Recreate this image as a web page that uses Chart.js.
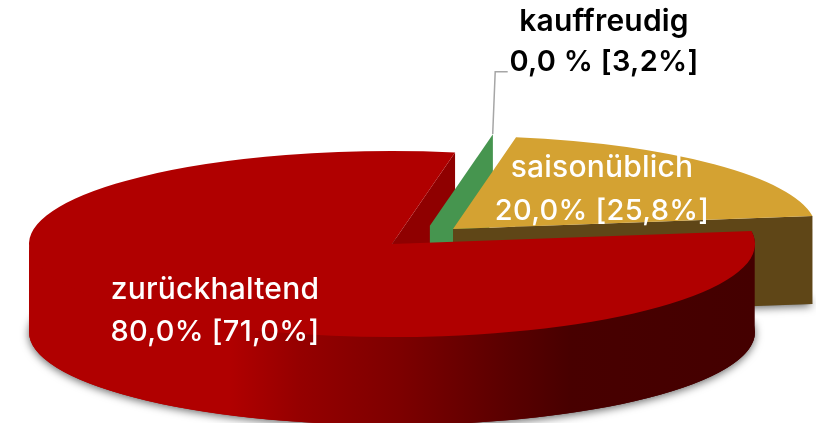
<!DOCTYPE html>
<html><head><meta charset="utf-8">
<style>html,body{margin:0;padding:0;background:#fff}canvas{display:block}</style>
<script src="https://cdn.jsdelivr.net/npm/chart.js@4"></script>
</head><body><canvas id="c" width="816" height="423"></canvas>
<script>
const categories = ['saisonüblich', 'zurückhaltend', 'kauffreudig'];
const currentShare = [20, 80, 0];
const previousShare = [25.8, 71.0, 3.2];
const valueLabels = ['20,0% [25,8%]', '80,0% [71,0%]', '0,0 % [3,2%]'];
const topColors = ['#d4a232', '#b00000', '#46954f'];
const wallColors = ['#5f4617', '#8f0000', '#46954f'];
const labelColors = ['#ffffff', '#ffffff', '#000000'];
const labelWeights = [500, 500, 600];
const labelCenters = [[602, 177, 220], [215, 299, 341], [604, 31, 71]];
const leaderLine = [[492.7, 134], [495.2, 71.7], [507.7, 71.7]];

const RX = 363, RY = 93, DEPTH = 88, CX = 422.5, CY = 236.5, EXPLODE = 42.4 / 363;

function apex(el) {
  const mid = (el.startAngle + el.endAngle) / 2;
  return [CX + Math.cos(mid) * EXPLODE * RX, CY + Math.sin(mid) * EXPLODE * RY];
}
function rim(a, t) { return [a[0] + Math.cos(t) * RX, a[1] + Math.sin(t) * RY]; }
function wall(ctx, a, t, color) {
  const p = rim(a, t);
  ctx.fillStyle = color;
  ctx.beginPath();
  ctx.moveTo(a[0], a[1]); ctx.lineTo(p[0], p[1]);
  ctx.lineTo(p[0], p[1] + DEPTH); ctx.lineTo(a[0], a[1] + DEPTH);
  ctx.closePath(); ctx.fill();
}
function topFace(ctx, el, a) {
  if (el.circumference <= 0) return;
  ctx.save();
  ctx.translate(a[0], a[1]);
  ctx.scale(RX / el.outerRadius, RY / el.outerRadius);
  ctx.translate(-el.x, -el.y);
  el.draw(ctx);
  ctx.restore();
}
function sideFace(ctx, a, t0, t1, fill, lift) {
  ctx.fillStyle = fill;
  ctx.beginPath();
  ctx.ellipse(a[0], a[1] - lift, RX, RY, 0, t0, t1);
  ctx.lineTo(rim(a, t1)[0], rim(a, t1)[1] + DEPTH);
  ctx.ellipse(a[0], a[1] + DEPTH, RX, RY, 0, t1, t0, true);
  ctx.closePath(); ctx.fill();
}
const pie3d = {
  id: 'pie3d',
  beforeDatasetsDraw(chart) {
    const ctx = chart.ctx, arcs = chart.getDatasetMeta(0).data;
    const [gold, red, green] = arcs;
    const ga = apex(gold), ra = apex(red), gr = apex(green);
    // soft shadow under the base of the two solid slices
    ctx.save();
    ctx.shadowColor = 'rgba(0,0,0,0.6)'; ctx.shadowBlur = 9; ctx.shadowOffsetY = 2;
    ctx.fillStyle = '#888';
    ctx.beginPath();
    ctx.ellipse(ra[0], ra[1] + DEPTH, RX, RY, 0, red.startAngle, red.endAngle);
    ctx.lineTo(ra[0], ra[1] + DEPTH); ctx.closePath(); ctx.fill();
    ctx.beginPath();
    ctx.ellipse(ga[0], ga[1] + DEPTH, RX, RY, 0, gold.startAngle, gold.endAngle);
    ctx.lineTo(ga[0], ga[1] + DEPTH); ctx.closePath(); ctx.fill();
    ctx.restore();
    // back-to-front
    wall(ctx, ra, red.endAngle, wallColors[1]);
    wall(ctx, gr, green.startAngle, wallColors[2]);
    wall(ctx, ga, gold.endAngle, wallColors[0]);
    topFace(ctx, gold, ga);
    const g = ctx.createLinearGradient(ra[0] - RX, 0, ra[0] + RX, 0);
    g.addColorStop(0, '#b00000'); g.addColorStop(0.277, '#b00000');
    g.addColorStop(0.373, '#950000'); g.addColorStop(0.51, '#7d0000');
    g.addColorStop(0.65, '#5c0000'); g.addColorStop(0.745, '#480000'); g.addColorStop(1, '#440000');
    sideFace(ctx, ra, red.startAngle, Math.PI, g, 0);
    sideFace(ctx, ra, 0.04, Math.PI - 0.04, g, 3);
    topFace(ctx, red, ra);
    return false;
  },
  afterDraw(chart) {
    const ctx = chart.ctx;
    ctx.save();
    ctx.strokeStyle = '#a6a6a6'; ctx.lineWidth = 1.5;
    ctx.beginPath();
    leaderLine.forEach((p, i) => i ? ctx.lineTo(p[0], p[1]) : ctx.moveTo(p[0], p[1]));
    ctx.stroke();
    ctx.textAlign = 'center'; ctx.textBaseline = 'alphabetic';
    categories.forEach((c, i) => {
      const [x, y1, y2] = labelCenters[i];
      ctx.fillStyle = labelColors[i];
      ctx.font = labelWeights[i] + ' 30px Inter';
      ctx.letterSpacing = '0.2px';
      ctx.fillText(c, x, y1);
      ctx.font = labelWeights[i] + ' 29px Inter';
      ctx.letterSpacing = '0.3px';
      ctx.fillText(valueLabels[i], x, y2);
    });
    ctx.restore();
  }
};
new Chart(document.getElementById('c'), {
  type: 'pie',
  data: { labels: categories, datasets: [{ data: currentShare, backgroundColor: topColors, borderWidth: 0 }] },
  options: {
    responsive: false, animation: false, rotation: 10,
    layout: { padding: 10 },
    plugins: { legend: { display: false }, tooltip: { enabled: false } }
  },
  plugins: [pie3d]
});
</script></body></html>
